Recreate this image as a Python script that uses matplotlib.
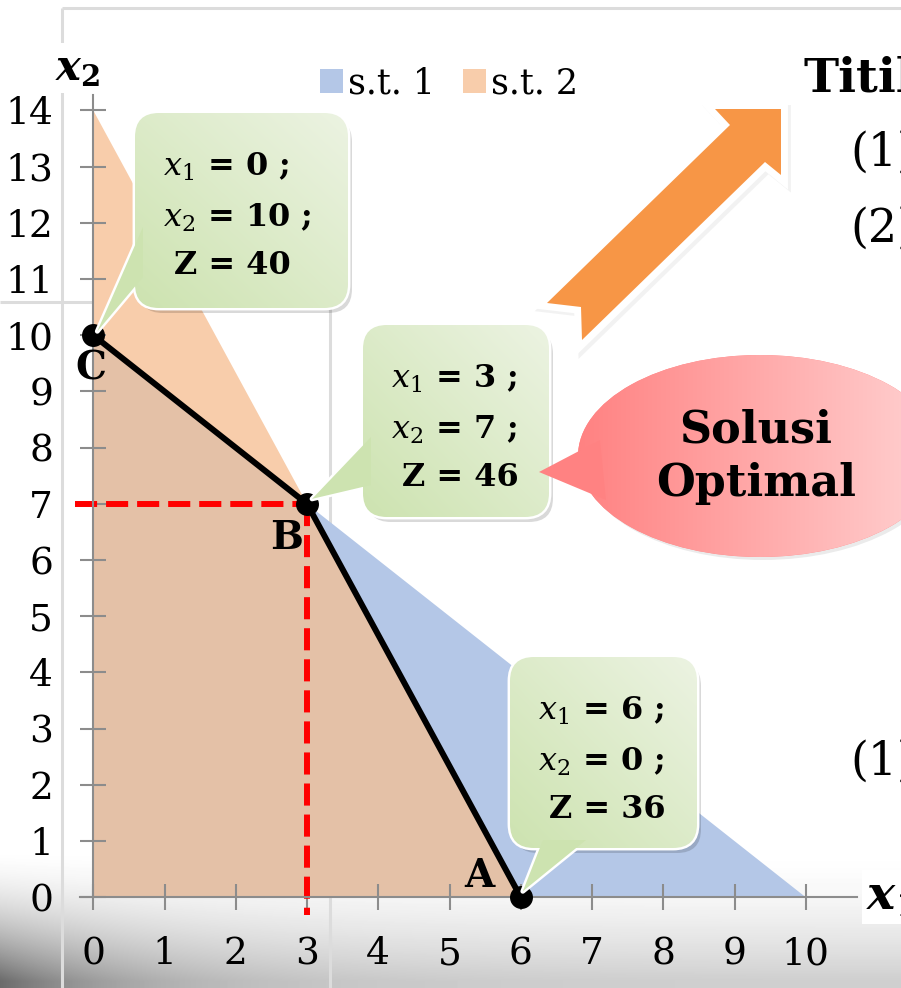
import numpy as np
import matplotlib
matplotlib.use('Agg')
import matplotlib.pyplot as plt
from matplotlib.colors import to_rgb
from matplotlib.patches import FancyBboxPatch, Polygon, Ellipse, Patch

plt.rcParams['font.family'] = 'DejaVu Serif'
plt.rcParams['mathtext.fontset'] = 'dejavuserif'

# kendala : intersep sumbu (x1, x2)
st1_intercepts = [10, 10]   # x1 + x2 <= 10
st2_intercepts = [6, 14]    # 7 x1 + 3 x2 <= 42
legend_labels = ['s.t. 1', 's.t. 2']

# titik sudut daerah layak
corner_labels = ['A', 'B', 'C']
corner_x1 = [6, 3, 0]
corner_x2 = [0, 7, 10]
corner_z = [36, 46, 40]

x_ticks = list(range(0, 11))
y_ticks = list(range(0, 15))

W, H = 901, 988
fig = plt.figure(figsize=(W / 100, H / 100), dpi=100)

# ---- latar (bayangan bawah + garis bingkai slide)
bg = fig.add_axes([0, 0, 1, 1])
bg.set_xlim(0, W)
bg.set_ylim(H, 0)
bg.axis('off')
yy, xx = np.mgrid[0:140, 0:W]
t = np.clip(yy / 133.0, 0, 1) ** 1.7
shade = (255 - (48 + 100 * np.exp(-xx / 140.0)) * t) / 255.0
bg.imshow(shade, cmap='gray', vmin=0, vmax=1, extent=(0, W, H, H - 140),
          aspect='auto', interpolation='bilinear')
for xs, ys in [((62, W), (8, 8)), ((62, 62), (8, H)),
               ((0, 330), (302, 302)), ((330, 330), (302, H))]:
    bg.plot(xs, ys, color='#dcdcdc', lw=2.2, solid_capstyle='butt')

# ---- grafik
ax = fig.add_axes([0, 0, 1, 1])
x0px, y0px, sx, sy = 93.3, 897.3, 71.25, 56.2
ax.set_xlim(-x0px / sx, (W - x0px) / sx)
ax.set_ylim(-(H - y0px) / sy, y0px / sy)
ax.patch.set_visible(False)

ax.fill([0, st1_intercepts[0], 0], [0, 0, st1_intercepts[1]], color='#b4c7e7', lw=0, zorder=1)
ax.fill([0, st2_intercepts[0], 0], [0, 0, st2_intercepts[1]], color='#f8cdab', lw=0, zorder=1.1)
ax.fill([0] + corner_x1, [0] + corner_x2, color='#e4c1a7', lw=0, zorder=1.2)

bx, by = corner_x1[1], corner_x2[1]
ax.plot([-0.26, bx], [by, by], color='#ff0000', lw=4.3, dashes=(3.7, 1.5), zorder=2)
ax.plot([bx, bx], [by, -0.31], color='#ff0000', lw=4.3, dashes=(3.7, 1.5), zorder=2)

ax.plot(corner_x1, corner_x2, color='black', lw=4.3, zorder=3, solid_capstyle='round')
ax.plot(corner_x1, corner_x2, 'o', ms=15.5, color='black', zorder=4)

for s in ['top', 'right']:
    ax.spines[s].set_visible(False)
for s in ['left', 'bottom']:
    ax.spines[s].set_position(('data', 0))
    ax.spines[s].set_color('#8c8c8c')
    ax.spines[s].set_linewidth(1.5)
ax.spines['left'].set_bounds(0, 14.27)
ax.spines['bottom'].set_bounds(-0.18, 10.72)
ax.set_xticks(x_ticks)
ax.set_yticks(y_ticks)
ax.tick_params(direction='inout', length=19.4, width=1.5, color='#8c8c8c',
               labelsize=27, labelcolor='black')
ax.tick_params(axis='y', pad=19.2)
ax.tick_params(axis='x', pad=18.3)

# label titik sudut
label_offsets = {'A': (-29.5, 15), 'B': (-14.5, -24.5), 'C': (-1.5, -24)}
for lab, x1, x2 in zip(corner_labels, corner_x1, corner_x2):
    ax.annotate(lab, (x1, x2), xytext=label_offsets[lab], textcoords='offset points',
                ha='center', va='center', fontsize=28, fontweight='bold', zorder=5)

# ---- anotasi (koordinat piksel)
fg = fig.add_axes([0, 0, 1, 1])
fg.set_xlim(0, W)
fg.set_ylim(H, 0)
fg.axis('off')


def to_px(x, y):
    return fg.transData.inverted().transform(ax.transData.transform((x, y)))


def gradient(extent, c_from, c_to, clip, z, diag=True):
    n = 64
    i, j = np.mgrid[0:n, 0:n]
    s = ((n - 1 - i) + j) / (2.0 * (n - 1)) if diag else j / (n - 1.0)
    img = np.array(to_rgb(c_from)) * (1 - s[..., None]) + np.array(to_rgb(c_to)) * s[..., None]
    im = fg.imshow(img, extent=extent, aspect='auto', interpolation='bilinear', zorder=z)
    im.set_clip_path(clip)


green_dark, green_light = '#cde3b0', '#ecf3e2'


def callout(box, ptr, z):
    x0, y0, x1, y1 = box
    style = 'round,pad=0,rounding_size=24'
    fg.add_patch(FancyBboxPatch((x0 + 4, y0 + 5), x1 - x0, y1 - y0, boxstyle=style,
                                fc='black', alpha=0.15, ec='none', zorder=z))
    fg.add_patch(Polygon(ptr, closed=True, fc=green_dark, ec='white', lw=3.5,
                         joinstyle='round', zorder=z + 0.01))
    box_p = FancyBboxPatch((x0, y0), x1 - x0, y1 - y0, boxstyle=style,
                           fc=green_dark, ec='white', lw=3.5, zorder=z + 0.02)
    fg.add_patch(box_p)
    gradient((x0, x1, y1, y0), green_dark, green_light, box_p, z + 0.03)
    fg.add_patch(Polygon(ptr, closed=True, fc=green_dark, ec='none', zorder=z + 0.04))


boxes = {'C': (135, 113, 348, 308), 'B': (363, 325, 549, 517), 'A': (510, 657, 697, 848)}
bases = {'C': [(143, 227), (143, 277)], 'B': [(371, 437), (371, 485)],
         'A': [(543, 840), (586, 840)]}
tip_off = {'C': (4, -4), 'B': (5, -5), 'A': (2, -6)}

for k, (lab, x1, x2, z) in enumerate(zip(corner_labels, corner_x1, corner_x2, corner_z)):
    px, py = to_px(x1, x2)
    tip = (px + tip_off[lab][0], py + tip_off[lab][1])
    ptr = [bases[lab][0], tip, bases[lab][1]]
    zz = 10 + k
    callout(boxes[lab], ptr, zz)
    bx0, by0 = boxes[lab][0], boxes[lab][1]
    lines = [f'$x_1$ = {x1} ;', f'$x_2$ = {x2} ;', f'Z = {z}']
    for line, dx, dy in zip(lines, [28, 28, 39], [63, 114, 161]):
        fg.text(bx0 + dx, by0 + dy, line, fontsize=23, fontweight='bold',
                va='baseline', ha='left', zorder=zz + 0.05)

# gelembung "Solusi Optimal"
red_dark, red_light = '#ff8282', '#ffd2d2'
fg.add_patch(Ellipse((763, 459), 364, 202, fc='black', alpha=0.08, ec='none', zorder=20))
ell = Ellipse((760, 456), 364, 202, fc=red_dark, ec='none', zorder=20.1)
fg.add_patch(ell)
gradient((578, 942, 557, 355), red_dark, red_light, ell, 20.2, diag=False)
fg.add_patch(Polygon([(600, 440), (539, 472), (606, 500)], closed=True,
                     fc=red_dark, ec='none', zorder=20.3))
fg.text(756, 442, 'Solusi', ha='center', va='baseline', fontsize=32,
        fontweight='bold', zorder=21)
fg.text(756, 496, 'Optimal', ha='center', va='baseline', fontsize=32,
        fontweight='bold', zorder=21)

# panah oranye
arrow = [(547, 303), (730, 125), (715, 109), (781, 109), (781, 175),
         (765, 162), (582, 340), (581, 307)]
fg.add_patch(Polygon([(x + 3, y + 3) for x, y in arrow], closed=True, fc='#999999',
                     ec='#999999', lw=10, alpha=0.12, joinstyle='miter', zorder=22))
fg.add_patch(Polygon(arrow, closed=True, fc='white', ec='white', lw=10,
                     joinstyle='miter', zorder=22.1))
fg.add_patch(Polygon(arrow, closed=True, fc='#f79646', ec='none', zorder=22.2))

# legenda
handles = [Patch(fc='#b4c7e7', ec='none'), Patch(fc='#f8cdab', ec='none')]
fg.legend(handles, legend_labels, loc='center left', bbox_to_anchor=(320, 83),
          bbox_transform=fg.transData, ncol=2, frameon=False, fontsize=25,
          handlelength=0.66, handleheight=0.66, handletextpad=0.15,
          columnspacing=0.8, borderpad=0, borderaxespad=0)

# judul sumbu
fg.text(55, 80, r'$\mathbfit{x}_{\mathbf{2}}$', fontsize=30, va='baseline', ha='left',
        bbox=dict(fc='white', ec='none', pad=3), zorder=25)
fg.text(866, 910, r'$\mathbfit{x}_{\mathbf{1}}$', fontsize=34, va='baseline', ha='left',
        bbox=dict(fc='white', ec='none', pad=3), zorder=25)

# teks slide di kanan (terpotong seperti pada tangkapan layar)
fg.text(803, 92, 'Titik', fontsize=34, fontweight='bold', va='baseline', ha='left')
fg.text(850, 153, '(1)', fontsize=33, va='center', ha='left')
fg.text(850, 229, '(2)', fontsize=33, va='center', ha='left')
fg.text(850, 762, '(1)', fontsize=33, va='center', ha='left')

fig.savefig('out.png', dpi=100)
